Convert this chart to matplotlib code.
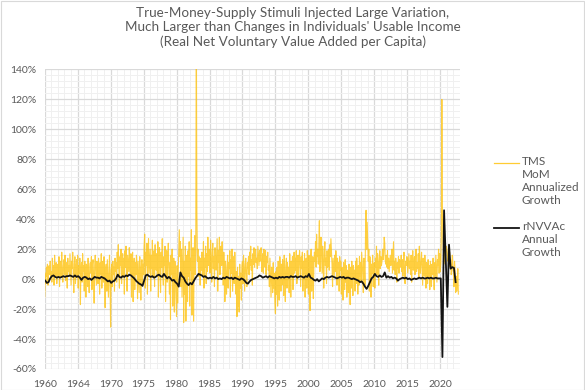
import numpy as np
import matplotlib.pyplot as plt
from matplotlib.lines import Line2D
from matplotlib.patches import Rectangle

plt.rcParams['font.family'] = ['Lato', 'DejaVu Sans']

# TMS month-over-month annualized growth (%), monthly from Jan 1960
tms_1960s = [-12, 4, -3, 8, 2, 10, -4, 6, 9, 3, 12, 1,
             5, -2, 14, 3, 9, -4, 16, 6, 2, 11, -3, 8,
             10, 2, 15, -5, 7, 12, 1, 18, 4, -2, 9, 13,
             3, 16, -1, 8, 11, -6, 14, 5, 9, 2, 17, 6,
             -4, 12, 7, 18, 2, -9, 10, 15, -3, 8, 13, 1,
             16, -6, 9, 4, 14, -17, 7, 11, -2, 17, 5, 9,
             -8, 12, 3, -12, 10, 6, -5, 14, 1, -9, 8, 11,
             4, 15, -7, 10, 13, 2, -16, 9, 16, 5, -4, 12,
             8, -3, 14, 6, -10, 11, 3, 17, -6, 9, 12, -2,
             15, 4, -19, 7, 10, -8, 13, 1, -12, 6, 16, -4]
tms_1970s = [-32, 6, 10, -5, 12, 3, 8, -8, 14, 5, 11, -2,
             18, 7, 23, 4, -6, 15, 9, 20, -3, 12, 17, 2,
             14, -10, 19, 8, 22, 3, -8, 16, 11, 5, 21, 7,
             4, 17, -12, 9, 18, -15, 6, 14, -7, 11, 3, 16,
             9, -13, 12, 2, -9, 15, 5, -14, 8, 13, -4, 10,
             3, 22, 30, -6, 18, 9, 24, -10, 15, 27, 4, 12,
             20, -8, 16, 7, 26, 1, 14, 19, -5, 23, 10, 6,
             17, 2, 25, -12, 11, 21, 5, -9, 18, 8, 27, 3,
             -4, 15, 9, 22, -15, 6, 19, -2, 13, 24, 7, -10,
             11, -27, 16, 3, 20, -18, 8, 14, -22, 12, 5, -13]
tms_1980s = [-25, 9, -16, 4, 18, 33, 15, 25, -5, 20, -12, 10,
             28, -29, 12, -10, 22, -28, 7, 16, -15, 19, 2, 25,
             -18, 14, 6, 33, -24, 10, 21, -28, 12, 29, 3, 18,
             180, 45, 12, 20, 2, 15, 9, -4, 14, 6, 18, 3,
             11, 25, -6, 14, 8, 22, -3, 17, 5, 28, 9, 13,
             20, 4, 26, 10, -2, 18, 24, 7, 15, -5, 21, 12,
             6, 17, 27, -8, 19, 11, 28, 3, 16, 22, 9, 25,
             14, -4, 18, 8, -15, 12, 3, -10, 9, 16, -6, 11,
             7, 19, -12, 13, 4, 20, -8, 10, 15, -3, 18, 6,
             -10, 5, -25, 8, -18, 2, -22, 10, -6, 4, -14, 9]
tms_1990s = [12, -3, 16, 5, -8, 10, 14, 2, -5, 11, 7, 15,
             3, 18, 9, 22, 6, 13, -4, 17, 10, 21, 8, 15,
             20, 11, 14, 7, 22, 16, 9, 19, 12, 18, 21, 5,
             10, 17, 4, 20, 13, 8, 19, 3, 15, 11, 18, 6,
             9, -5, 14, 2, -12, 8, 3, -9, 11, -6, 4, -15,
             -23, 5, -10, 8, -18, 12, 2, -14, 15, 6, -8, 10,
             -4, 13, 7, -11, 16, 3, -15, 9, 14, -6, 11, 1,
             8, -9, 17, 5, -12, 12, 2, 15, -7, 10, 18, 4,
             14, 6, 19, -3, 11, 16, 1, 13, 19, 8, -5, 15,
             7, 18, -8, 12, 4, 17, -12, 9, 14, -6, 19, 11]
tms_2000s = [-10, 16, 4, -21, 11, 20, -8, 6, 15, -13, 9, 18,
             12, 25, 8, 30, 15, 20, 10, 22, 39, 5, 18, 28,
             15, 4, 22, 10, -6, 18, 25, 9, 14, -3, 19, 8,
             12, 20, 6, 23, 15, 27, 18, 10, -5, 14, 8, 2,
             16, 5, 19, 10, -4, 14, 7, 11, -8, 15, 6, 12,
             -10, 8, 3, -14, 11, 5, -7, 13, -2, 9, -12, 6,
             4, -9, 10, 2, -17, 8, -6, 12, 3, -11, 9, 1,
             6, -8, 12, -3, 14, 5, -10, 9, -4, 15, 2, 11,
             -2, 18, 10, 3, -9, 14, 7, -5, 30, 46, 20, 38,
             25, 12, 20, -8, 15, 6, -12, 10, 4, 16, -5, 9]
tms_2010s = [11, -6, 14, 8, 22, 3, 17, 10, -4, 13, 19, 7,
             15, 9, 12, 20, 13, 17, 28, 24, 12, 10, 16, 8,
             19, 7, 14, 5, 11, 16, 9, 13, 20, 4, 15, 25,
             6, 12, 3, 14, 9, -2, 11, 7, 15, 4, 13, 10,
             8, 16, 5, 13, 2, 11, 18, 6, -3, 12, 9, 15,
             14, 4, 10, 17, 7, 12, 3, 16, -2, 11, 19, 6,
             9, 15, 3, 13, 20, 5, 11, 7, 17, 1, 22, 10,
             4, 12, 18, 6, -4, 14, 9, 2, 16, 8, -6, 11,
             7, -3, 13, 1, 9, -7, 12, 4, -5, 10, 3, 14,
             5, -7, 11, 2, 16, 7, -2, 13, 9, 20, 4, 17]
tms_2020s = [5, 10, 30, 120, 45, 25, 18, 12, 20, 10, 15, 22,
             20, 17, 12, 14, 11, 18, 8, 13, 3, 6, 16, 9,
             4, -5, 12, 6, -9, 2, -8, -3, 7, -10]

# rNVVAc annual growth (%), quarterly from 1960 Q1
rnvvac_1960s = [-1, -2.5, -2, 0.5, 2, 2.5, 1.5, 1, 1.5, 1, 1.5, 2, 1.5, 2, 2, 2.5,
                2, 1.5, 2.5, 1.5, 2, 1, -0.5, 1, 1.5, 1, 0, 0.5, -0.5, 0.5, 1.5, 1,
                1, 0.5, 1.5, 1, 0.5, -0.5, -1.5, -1]
rnvvac_1970s = [-2.5, -1.5, -1, 0.5, 3, 1.5, 1, 2, 1.5, 2.5, 2, 3, 2.5, 1.5, 0.5, -1,
                -2, -3, -3.5, -4.5, -1, 2.5, 3, 2, 1.5, 2, 1, 1.5, 2.5, 3, 2, 1.5,
                3.5, 2, 0.5, 1.5, 0.5, -1, -0.5, -2]
rnvvac_1980s = [-3, -5, 4.5, 2, 1, -1.5, -3, -4, -2.5, -3.5, -1.5, 0.5, 2, 3.5, 3, 2.5,
                1.5, 2, 1, 0.5, 1, 0.5, 1.5, 0.5, 1, 0, 0.5, 0, 1, 0.5, 1.5, 1,
                0.5, 1, 0, 1, 0.5, 0, -0.5, 0.5]
rnvvac_1990s = [0, -1, -2.5, -3, -1.5, -0.5, 0, 0.5, 1, 1.5, 2.5, 2, 1, 1.5, 2, 1,
                2, 1.5, 1, 0.5, 1, 0.5, 1.5, 1, 1.5, 1, 1.5, 1.5, 1, 2, 1.5, 1.5,
                2, 1, 1.5, 2, 1.5, 1, 2, 1.5]
rnvvac_2000s = [3.5, 1, 0.5, -0.5, -1, 0, -1.5, -0.5, 0.5, 0, 1, 1.5, 1, 1.5, 2, 1.5,
                1, 0.5, 1, 1.5, 1, 1.5, 0.5, 1, 1, 0.5, 0, 0.5, 0, -0.5, -1, -2,
                -1.5, -3, -5, -6.5, -4.5, -2, 0.5, 1.5]
rnvvac_2010s = [3.5, 2, 1.5, 2.5, 1.5, 2, 4.5, 1, 2, 1, 1.5, 0.5, 1, 0.5, -1, 0,
                0.5, 1, 0.5, 1, 0, 0.5, -0.5, 0, 0.5, 0, 0.5, 1, 0.5, 1, 0.5, 0.5,
                1, 0.5, 1, 0.5, 0.5, 1, 0.5, 0.5]
rnvvac_2020s = [0.5, -52, 46, 14, -18.5, 23, 7, 8, 7.5, -2]

y_ticks = [-60, -40, -20, 0, 20, 40, 60, 80, 100, 120, 140]
x_labels = ['1960', '1964', '1970', '1975', '1980', '1985', '1990',
            '1995', '2000', '2005', '2010', '2015', '2020']

tms = np.concatenate([tms_1960s, tms_1970s, tms_1980s, tms_1990s,
                      tms_2000s, tms_2010s, tms_2020s])
rnvvac = np.concatenate([rnvvac_1960s, rnvvac_1970s, rnvvac_1980s, rnvvac_1990s,
                         rnvvac_2000s, rnvvac_2010s, rnvvac_2020s])
x_tms = np.arange(len(tms))
x_rn = np.arange(len(rnvvac)) * 3 + 1

gold = '#FFC000'
dark = '#141414'
grey = '#595959'

fig = plt.figure(figsize=(5.85, 3.9), dpi=100)
ax = fig.add_axes([44.7 / 585, 1 - 369 / 390, (460 - 44.7) / 585, (369 - 69.5) / 390])

ax.plot(x_tms, tms, color=gold, lw=0.8, alpha=0.75, zorder=3)
ax.plot(x_rn, rnvvac, color=dark, lw=1.3, zorder=4)

ax.set_xlim(0, 756)
ax.set_ylim(-60, 140)
ax.set_xticks(np.arange(len(x_labels)) * 60)
ax.set_xticklabels(x_labels)
ax.set_xticks(np.arange(0, 757, 12), minor=True)
ax.set_yticks(y_ticks)
ax.set_yticklabels([f'{v}%' for v in y_ticks])
ax.set_yticks(np.arange(-60, 141, 4), minor=True)
ax.grid(which='major', color='#D9D9D9', lw=0.9, zorder=0)
ax.grid(which='minor', color='#F0F0F0', lw=0.7, zorder=0)
ax.set_axisbelow(True)
for s in ax.spines.values():
    s.set_visible(False)
ax.tick_params(which='both', length=0, colors=grey, labelsize=7.5)
ax.tick_params(axis='y', pad=6)
ax.tick_params(axis='x', pad=8)

fig.text(0.5, 1 - 7 / 390,
         "True-Money-Supply Stimuli Injected Large Variation,\n"
         "Much Larger than Changes in Individuals' Usable Income\n"
         "(Real Net Voluntary Value Added per Capita)",
         ha='center', va='top', fontsize=9.7, color=grey, linespacing=1.22)

# legend drawn by hand so the handle sits on the first text line
for ly, col, lw, alpha, txt in [(163, gold, 0.9, 0.8, 'TMS\nMoM\nAnnualized\nGrowth'),
                                (228, dark, 1.3, 1.0, 'rNVVAc\nAnnual\nGrowth')]:
    fy = 1 - ly / 390
    fig.add_artist(Line2D([494 / 585, 519 / 585], [fy, fy], color=col, lw=lw, alpha=alpha))
    fig.text(522 / 585, fy + 7 / 390, txt, ha='left', va='top', fontsize=8.5,
             color=grey, linespacing=1.22)

fig.add_artist(Rectangle((0.001, 0.001), 0.997, 0.997, transform=fig.transFigure,
                         fill=False, edgecolor='#D9D9D9', lw=0.8))

fig.savefig('out.png', dpi=100)
